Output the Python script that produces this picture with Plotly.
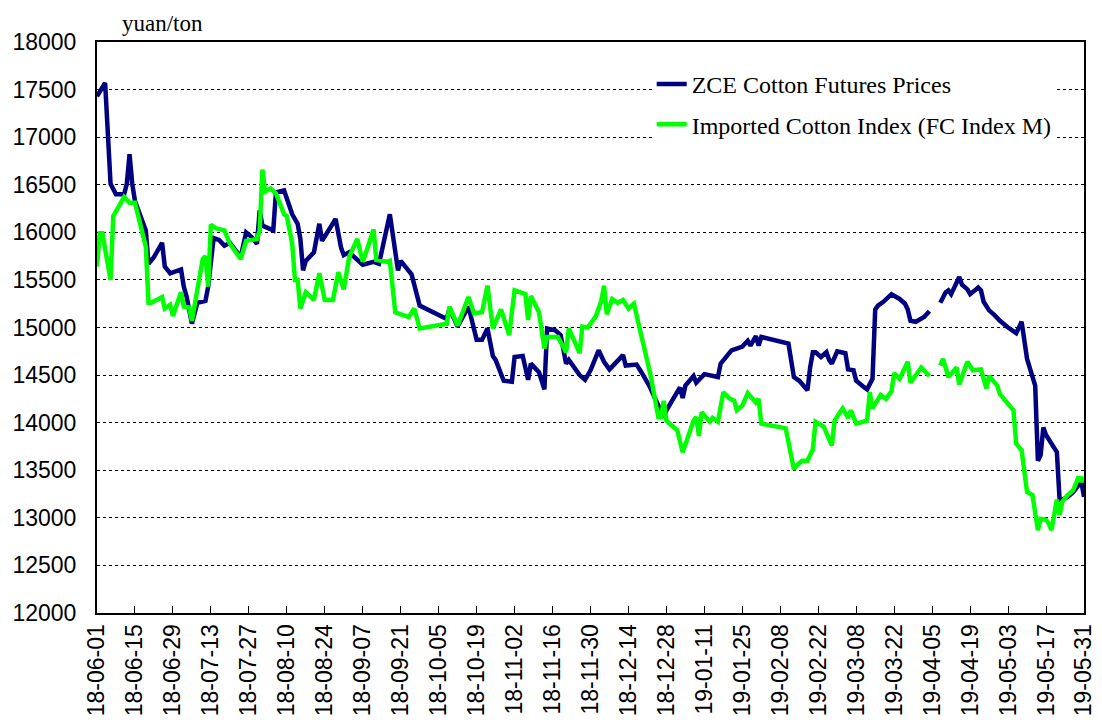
import plotly.graph_objects as go

# ZCE Cotton Futures Prices (yuan/ton)
zce_dates = [
    "2018-06-01", "2018-06-04", "2018-06-06", "2018-06-08", "2018-06-11", "2018-06-12", "2018-06-13", "2018-06-14",
    "2018-06-15", "2018-06-19", "2018-06-20", "2018-06-22", "2018-06-25", "2018-06-26", "2018-06-28", "2018-07-02",
    "2018-07-03", "2018-07-04", "2018-07-06", "2018-07-08", "2018-07-11", "2018-07-12", "2018-07-14", "2018-07-16",
    "2018-07-18", "2018-07-20", "2018-07-24", "2018-07-26", "2018-07-28", "2018-07-30", "2018-07-31", "2018-08-01",
    "2018-08-05", "2018-08-06", "2018-08-09", "2018-08-12", "2018-08-14", "2018-08-15", "2018-08-16", "2018-08-17",
    "2018-08-20", "2018-08-22", "2018-08-23", "2018-08-28", "2018-08-30", "2018-08-31", "2018-09-02", "2018-09-06",
    "2018-09-07", "2018-09-11", "2018-09-13", "2018-09-17", "2018-09-20", "2018-09-21", "2018-09-25", "2018-09-28",
    "2018-10-08", "2018-10-09", "2018-10-12", "2018-10-16", "2018-10-19", "2018-10-21", "2018-10-23", "2018-10-25",
    "2018-10-26", "2018-10-29", "2018-11-01", "2018-11-02", "2018-11-05", "2018-11-07", "2018-11-08", "2018-11-11",
    "2018-11-13", "2018-11-14", "2018-11-17", "2018-11-19", "2018-11-21", "2018-11-22", "2018-11-26", "2018-11-28",
    "2018-11-30", "2018-12-03", "2018-12-05", "2018-12-07", "2018-12-12", "2018-12-13", "2018-12-17", "2018-12-19",
    "2018-12-22", "2018-12-25", "2018-12-27", "2018-12-28", "2018-12-31", "2019-01-02", "2019-01-03", "2019-01-04",
    "2019-01-07", "2019-01-08", "2019-01-11", "2019-01-13", "2019-01-16", "2019-01-17", "2019-01-19", "2019-01-21",
    "2019-01-25", "2019-01-27", "2019-01-28", "2019-01-30", "2019-01-31", "2019-02-01", "2019-02-11", "2019-02-13",
    "2019-02-15", "2019-02-18", "2019-02-19", "2019-02-20", "2019-02-21", "2019-02-23", "2019-02-25", "2019-02-26",
    "2019-02-27", "2019-03-01", "2019-03-04", "2019-03-05", "2019-03-07", "2019-03-08", "2019-03-11", "2019-03-12",
    "2019-03-14", "2019-03-15", "2019-03-16", "2019-03-18", "2019-03-21", "2019-03-24", "2019-03-26", "2019-03-27",
    "2019-03-28", "2019-03-30", "2019-04-02", "2019-04-04", "2019-04-05", "2019-04-08", "2019-04-10", "2019-04-11",
    "2019-04-12", "2019-04-15", "2019-04-16", "2019-04-18", "2019-04-19", "2019-04-22", "2019-04-23", "2019-04-24",
    "2019-04-26", "2019-04-28", "2019-04-30", "2019-05-03", "2019-05-06", "2019-05-08", "2019-05-09", "2019-05-10",
    "2019-05-13", "2019-05-14", "2019-05-15", "2019-05-16", "2019-05-17", "2019-05-21", "2019-05-22", "2019-05-23",
    "2019-05-25", "2019-05-27", "2019-05-30", "2019-05-31",
]
zce_values = [
    17430, 17570, 16510, 16400, 16400, 16510, 16820, 16510,
    16330, 16020, 15670, 15740, 15890, 15640, 15570, 15610,
    15430, 15330, 15040, 15260, 15280, 15430, 15940, 15920,
    15860, 15890, 15740, 16000, 15950, 15880, 16230, 16070,
    16020, 16420, 16440, 16190, 16090, 15930, 15600, 15700,
    15790, 16090, 15910, 16140, 15840, 15760, 15790, 15690,
    15660, 15690, 15670, 16190, 15600, 15700, 15560, 15230,
    15090, 15200, 15010, 15220, 14870, 14870, 14990, 14700,
    14660, 14440, 14430, 14690, 14700, 14450, 14620, 14530,
    14350, 14990, 14970, 14920, 14620, 14660, 14500, 14450,
    14550, 14760, 14640, 14560, 14710, 14600, 14610, 14520,
    14370, 14180, 14060, 14130, 14270, 14370, 14260, 14390,
    14490, 14420, 14510, 14500, 14480, 14620, 14700, 14760,
    14800, 14860, 14810, 14910, 14810, 14900, 14830, 14480,
    14440, 14340, 14580, 14740, 14740, 14690, 14740, 14660,
    14620, 14750, 14730, 14560, 14550, 14440, 14370, 14350,
    14460, 15190, 15230, 15270, 15350, 15300, 15250, 15190,
    15070, 15060, 15110, 15170, None, 15260, 15370, 15390,
    15350, 15530, 15450, 15400, 15350, 15420, 15390, 15270,
    15180, 15130, 15070, 15000, 14940, 15060, 14830, 14670,
    14390, 13600, 13660, 13950, 13870, 13690, 13190, 13190,
    13220, 13270, 13380, 13220,
]

# Imported Cotton Index (FC Index M) (yuan/ton)
fc_dates = [
    "2018-06-01", "2018-06-02", "2018-06-03", "2018-06-06", "2018-06-07", "2018-06-11", "2018-06-13", "2018-06-15",
    "2018-06-19", "2018-06-20", "2018-06-21", "2018-06-25", "2018-06-26", "2018-06-28", "2018-06-29", "2018-07-02",
    "2018-07-03", "2018-07-05", "2018-07-06", "2018-07-08", "2018-07-10", "2018-07-11", "2018-07-12", "2018-07-13",
    "2018-07-15", "2018-07-18", "2018-07-20", "2018-07-24", "2018-07-26", "2018-07-30", "2018-07-31", "2018-08-01",
    "2018-08-02", "2018-08-04", "2018-08-06", "2018-08-09", "2018-08-10", "2018-08-12", "2018-08-13", "2018-08-14",
    "2018-08-15", "2018-08-17", "2018-08-20", "2018-08-22", "2018-08-24", "2018-08-27", "2018-08-29", "2018-08-31",
    "2018-09-02", "2018-09-05", "2018-09-07", "2018-09-08", "2018-09-11", "2018-09-12", "2018-09-16", "2018-09-17",
    "2018-09-19", "2018-09-24", "2018-09-26", "2018-09-28", "2018-10-08", "2018-10-09", "2018-10-12", "2018-10-16",
    "2018-10-18", "2018-10-21", "2018-10-23", "2018-10-25", "2018-10-28", "2018-10-31", "2018-11-02", "2018-11-06",
    "2018-11-07", "2018-11-08", "2018-11-11", "2018-11-13", "2018-11-14", "2018-11-18", "2018-11-21", "2018-11-22",
    "2018-11-26", "2018-11-27", "2018-11-29", "2018-12-02", "2018-12-04", "2018-12-05", "2018-12-06", "2018-12-08",
    "2018-12-10", "2018-12-12", "2018-12-14", "2018-12-16", "2018-12-19", "2018-12-22", "2018-12-25", "2018-12-26",
    "2018-12-27", "2018-12-28", "2019-01-01", "2019-01-03", "2019-01-07", "2019-01-08", "2019-01-09", "2019-01-10",
    "2019-01-13", "2019-01-14", "2019-01-16", "2019-01-18", "2019-01-20", "2019-01-22", "2019-01-23", "2019-01-25",
    "2019-01-27", "2019-01-30", "2019-01-31", "2019-02-01", "2019-02-10", "2019-02-13", "2019-02-14", "2019-02-16",
    "2019-02-18", "2019-02-20", "2019-02-21", "2019-02-24", "2019-02-27", "2019-02-28", "2019-03-02", "2019-03-03",
    "2019-03-05", "2019-03-06", "2019-03-08", "2019-03-12", "2019-03-13", "2019-03-14", "2019-03-17", "2019-03-19",
    "2019-03-21", "2019-03-22", "2019-03-24", "2019-03-27", "2019-03-28", "2019-04-01", "2019-04-04", "2019-04-05",
    "2019-04-08", "2019-04-09", "2019-04-11", "2019-04-14", "2019-04-15", "2019-04-18", "2019-04-20", "2019-04-23",
    "2019-04-25", "2019-04-26", "2019-04-29", "2019-04-30", "2019-05-05", "2019-05-06", "2019-05-08", "2019-05-10",
    "2019-05-12", "2019-05-14", "2019-05-15", "2019-05-17", "2019-05-18", "2019-05-19", "2019-05-21", "2019-05-22",
    "2019-05-23", "2019-05-25", "2019-05-27", "2019-05-29", "2019-05-30", "2019-05-31",
]
fc_values = [
    15640, 15990, 15990, 15500, 16170, 16370, 16310, 16310,
    15850, 15260, 15260, 15320, 15200, 15240, 15120, 15370,
    15220, 15210, 15070, 15400, 15720, 15750, 15430, 16080,
    16040, 16020, 15880, 15720, 15910, 15930, 16020, 16660,
    16430, 16460, 16410, 16190, 16170, 15880, 15500, 15500,
    15200, 15370, 15290, 15570, 15290, 15290, 15580, 15400,
    15740, 15930, 15690, 15770, 16030, 15710, 15690, 15700,
    15160, 15110, 15200, 14990, 15040, 15220, 15020, 15320,
    15150, 15160, 15440, 14990, 15190, 14920, 15390, 15350,
    15080, 15330, 15160, 14780, 14900, 14900, 14740, 14990,
    14730, 15010, 15000, 15120, 15280, 15440, 15140, 15300,
    15260, 15290, 15200, 15250, 14900, 14520, 14060, 14060,
    14230, 14020, 13920, 13690, 14020, 14060, 13860, 14110,
    14010, 14050, 14010, 14320, 14260, 14230, 14130, 14180,
    14310, 14210, 14250, 13990, 13940, 13510, 13550, 13600,
    13600, 13720, 14010, 13960, 13760, 14020, 14110, 14150,
    14050, 14130, 13990, 14020, 14320, 14150, 14290, 14250,
    14330, 14520, 14460, 14640, 14420, 14580, 14490, None,
    14600, 14670, 14480, 14580, 14400, 14640, 14550, 14560,
    14360, 14490, 14390, 14300, 14130, 13780, 13710, 13270,
    13240, 12870, 12990, 12980, 12940, 12870, 13190, 13030,
    13170, 13240, 13290, 13430, 13380, 13430,
]

series_names = ["ZCE Cotton Futures Prices", "Imported Cotton Index (FC Index M)"]
series_colors = ["#000080", "#00FF00"]
y_unit = "yuan/ton"

fig = go.Figure()
fig.add_trace(go.Scatter(x=zce_dates, y=zce_values, mode="lines", name=series_names[0],
                         line=dict(color=series_colors[0], width=4.5), connectgaps=False,
                         legendgroup="a"))
fig.add_trace(go.Scatter(x=fc_dates, y=fc_values, mode="lines", name=series_names[1],
                         line=dict(color=series_colors[1], width=4.5), connectgaps=False,
                         legendgroup="b"))

tick_font = dict(family="Arial, Liberation Sans, sans-serif", size=23, color="black")
serif = "Times New Roman, Liberation Serif, serif"

# page body adds an 8px margin; figure sized to fill the rest of the window
fig.update_layout(
    width=1094, height=712,
    margin=dict(l=89, r=18, t=34, b=107, pad=0, autoexpand=False),
    paper_bgcolor="white", plot_bgcolor="white",
    showlegend=True,
    legend=dict(x=0.562, y=0.965, xanchor="left", yanchor="top",
                bgcolor="white", borderwidth=0,
                font=dict(family=serif, size=24, color="black"),
                tracegroupgap=6),
    xaxis=dict(type="date", range=["2018-06-01", "2019-05-31"], automargin=False,
               tick0="2018-06-01", dtick=14 * 86400000, tickformat="%y-%m-%d",
               tickangle=-90, ticks="inside", ticklen=7, tickcolor="black", tickwidth=1,
               showgrid=False, showline=True, linecolor="black", linewidth=2, mirror=True,
               tickfont=tick_font, zeroline=False),
    yaxis=dict(range=[12000, 18000], tick0=12000, dtick=500, tickformat="d", automargin=False,
               showgrid=True, gridcolor="black", griddash="dot", gridwidth=1,
               ticks="", ticklabelstandoff=14,
               showline=True, linecolor="black", linewidth=2, mirror=True,
               tickfont=tick_font, zeroline=False),
    annotations=[dict(text=y_unit, xref="paper", yref="paper", x=0.0245, y=1.056,
                      xanchor="left", yanchor="top", showarrow=False, borderpad=0,
                      font=dict(family=serif, size=23, color="black"))],
)

fig.write_html("out.html")
